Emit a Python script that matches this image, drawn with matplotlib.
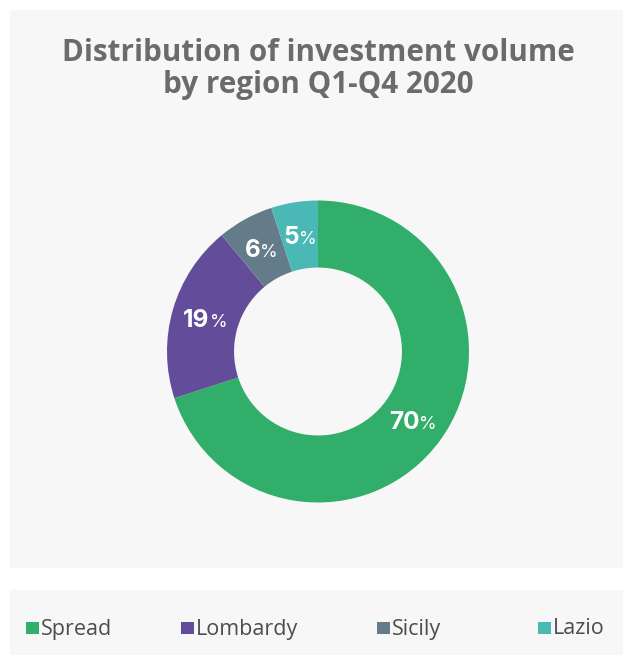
import matplotlib
matplotlib.use("Agg")
import matplotlib.pyplot as plt
from matplotlib.patches import Rectangle
import numpy as np

# Data
regions = ["Spread", "Lombardy", "Sicily", "Lazio"]
shares = [70, 19, 6, 5]
colors = ["#31ae69", "#634c9a", "#647c8a", "#4ab8b4"]
title = "Distribution of investment volume\nby region Q1-Q4 2020"

W, H = 623, 655
DPI = 100
PANEL = "#f7f7f7"

fig = plt.figure(figsize=(W / DPI, H / DPI), dpi=DPI, facecolor="white")

def px_rect(x0, y0, x1, y1, color, z):
    # rectangle in pixel coords measured from the top-left corner
    fig.patches.append(Rectangle((x0 / W, 1 - y1 / H), (x1 - x0) / W, (y1 - y0) / H,
                                 transform=fig.transFigure, facecolor=color,
                                 edgecolor="none", zorder=z))

# background panels
px_rect(10, 10, W, 568, PANEL, -10)
px_rect(10, 590, W, H, PANEL, -10)

# title
fig.text(318 / W, 1 - 69 / H, title, ha="center", va="center",
         fontsize=21.3, fontweight="bold", color="#6b6b6b",
         family="Open Sans", linespacing=1.1)

# donut
cx, cy, R = 318, 351.5, 151
ax = fig.add_axes([(cx - R) / W, 1 - (cy + R) / H, 2 * R / W, 2 * R / H])
ax.set_facecolor("none")
inner = 0.556
width = 1 - inner
wedges, _ = ax.pie(shares, colors=colors, startangle=90, counterclock=False,
                   radius=1.0, wedgeprops=dict(width=width, edgecolor="none"))
ax.set_xlim(-1, 1)
ax.set_ylim(-1, 1)
ax.set_aspect("equal")
ax.axis("off")

# percentage labels: bold number followed by a smaller percent sign
NUM_FS, PCT_FS = 17.5, 13
fig.canvas.draw()
renderer = fig.canvas.get_renderer()
mid_r = 1 - width / 2
for w, val in zip(wedges, shares):
    ang = np.deg2rad((w.theta1 + w.theta2) / 2)
    x, y = mid_r * np.cos(ang), mid_r * np.sin(ang)
    t1 = ax.text(x, y, f"{val}", ha="right", va="baseline", color="white",
                 fontsize=NUM_FS, fontweight="bold", family="Inter")
    t2 = ax.text(x, y, "%", ha="left", va="baseline", color="white",
                 fontsize=PCT_FS, family="Inter")
    b1 = t1.get_window_extent(renderer)
    b2 = t2.get_window_extent(renderer)
    total = b1.width + b2.width
    px, py = ax.transData.transform((x, y))
    split = px - total / 2 + b1.width
    off_y = -NUM_FS * DPI / 72 * 0.36
    pos = ax.transData.inverted().transform((split, py + off_y))
    t1.set_position(pos)
    t2.set_position(pos)

# legend
leg_x = [26, 181, 377, 538]
leg_y = 628
for xpos, name, c in zip(leg_x, regions, colors):
    px_rect(xpos, leg_y - 6, xpos + 12.5, leg_y + 6, c, -5)
    fig.text((xpos + 15) / W, 1 - (leg_y + 1) / H, name, ha="left", va="center",
             fontsize=15.5, color="#4d4d4d", family="Open Sans")

fig.savefig("out.png", dpi=DPI, facecolor="white")
